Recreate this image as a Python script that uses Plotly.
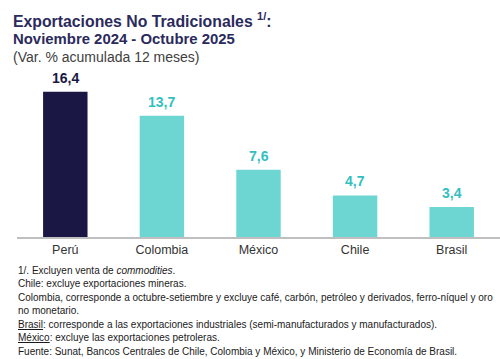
import plotly.graph_objects as go

categories = ["Perú", "Colombia", "México", "Chile", "Brasil"]
values = [16.4, 13.7, 7.6, 4.7, 3.4]
value_labels = ["16,4", "13,7", "7,6", "4,7", "3,4"]

bar_colors = ["#1a1744", "#6dd6d2", "#6dd6d2", "#6dd6d2", "#6dd6d2"]
label_colors = ["#1a1744", "#33bfc0", "#33bfc0", "#33bfc0", "#33bfc0"]

title_lines = [
    "<b>Exportaciones No Tradicionales <sup>1/</sup>:</b>",
    "<b>Noviembre 2024 - Octubre 2025</b>",
    "(Var. % acumulada 12 meses)",
]
notes = [
    "1/. Excluyen venta de <i>commodities</i>.",
    "Chile: excluye exportaciones mineras.",
    "Colombia, corresponde a octubre-setiembre y excluye café, carbón, petróleo y derivados, ferro-níquel y oro",
    "no monetario.",
    "<u>Brasil</u>: corresponde a las exportaciones industriales (semi-manufacturados y manufacturados).",
    "<u>México</u>: excluye las exportaciones petroleras.",
    "Fuente: Sunat, Bancos Centrales de Chile, Colombia y México, y Ministerio de Economía de Brasil.",
]

W, H = 500, 359
L, R, T, B = 17, 0, 60, 122
PW = W - L - R
PH = H - T - B

def xp(px):
    return (px - L) / PW

def yp(py):
    return (H - B - py) / PH

FONT = "Liberation Sans, Arial, sans-serif"

fig = go.Figure()
fig.add_trace(go.Bar(
    x=categories, y=values,
    marker=dict(color=bar_colors, line=dict(width=0)),
    hoverinfo="skip",
))

annotations = []
for c, v, t, col in zip(categories, values, value_labels, label_colors):
    annotations.append(dict(
        x=c, y=v, xref="x", yref="y", text="<b>%s</b>" % t,
        showarrow=False, yanchor="bottom", yshift=4,
        font=dict(family=FONT, size=14, color=col),
    ))

title_y = [20, 39, 57]
title_styles = [
    dict(size=15.8, color="#2b2a5c"),
    dict(size=14.9, color="#2b2a5c"),
    dict(size=14, color="#404040"),
]
for txt, y, st in zip(title_lines, title_y, title_styles):
    annotations.append(dict(
        x=xp(11), y=yp(y), xref="paper", yref="paper", text=txt,
        showarrow=False, xanchor="left", yanchor="middle",
        font=dict(family=FONT, **st),
    ))

note_y = [270, 283.5, 297, 310.5, 324, 337.5, 351]
for txt, y in zip(notes, note_y):
    annotations.append(dict(
        x=xp(16), y=yp(y), xref="paper", yref="paper", text=txt,
        showarrow=False, xanchor="left", yanchor="middle",
        font=dict(family=FONT, size=10, color="#1a1a1a"),
    ))

fig.update_layout(
    width=W, height=H,
    margin=dict(l=L, r=R, t=T, b=B, pad=0),
    paper_bgcolor="white", plot_bgcolor="white",
    bargap=0.54,
    showlegend=False,
    xaxis=dict(
        showgrid=False, showline=True, linecolor="#bfbfbf", linewidth=1.5,
        ticks="", tickfont=dict(family=FONT, size=12.5, color="#333333"),
        fixedrange=True,
    ),
    yaxis=dict(
        range=[0, 20], showgrid=False, showticklabels=False, zeroline=False,
        showline=False, fixedrange=True,
    ),
    annotations=annotations,
)

fig.write_html(
    "out.html",
    config={"displayModeBar": False},
    post_script="document.body.style.margin='0';document.body.style.padding='0';",
)
